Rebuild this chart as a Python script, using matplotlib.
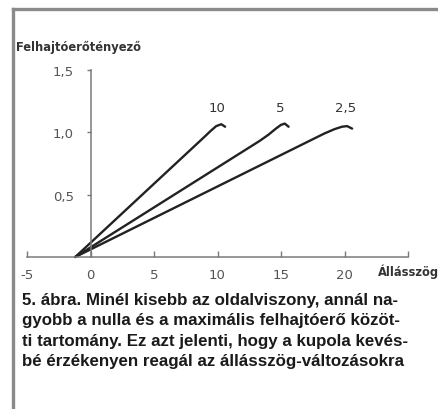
#!/usr/bin/env python3
"""Felhajtóerő-tényező az állásszög függvényében, három oldalviszonyra (5. ábra)."""
import matplotlib
matplotlib.use("Agg")
import matplotlib.pyplot as plt

# ---------------------------------------------------------------- data
aspect_labels = ["10", "5", "2,5"]
x_10 = [-1.2, 8.9, 9.5, 9.9, 10.3, 10.6]
y_10 = [0.0, 0.957, 1.015, 1.05, 1.065, 1.045]
x_5 = [-1.2, 13.3, 14.0, 14.6, 15.0, 15.3, 15.6]
y_5 = [0.0, 0.93, 0.98, 1.03, 1.06, 1.07, 1.045]
x_25 = [-1.2, 18.4, 19.2, 19.8, 20.2, 20.6]
y_25 = [0.0, 0.99, 1.025, 1.045, 1.05, 1.03]
label_x = [10.0, 14.9, 20.1]
label_y = [1.2, 1.2, 1.2]

xticks = [-5, 0, 5, 10, 15, 20, 25]
xtick_labels = ["-5", "0", "5", "10", "15", "20", ""]
yticks = [0.5, 1.0, 1.5]
ytick_labels = ["0,5", "1,0", "1,5"]

caption = ("5. ábra. Minél kisebb az oldalviszony, annál na-\n"
           "gyobb a nulla és a maximális felhajtóerő közöt-\n"
           "ti tartomány. Ez azt jelenti, hogy a kupola kevés-\n"
           "bé érzékenyen reagál az állásszög-változásokra")

AXIS_GRAY = "#7a7a7a"
TICK_GRAY = "#555555"
LINE = "#222222"

fig = plt.figure(figsize=(4.38, 4.10), dpi=100)

# page frame (top and left rule)
fig.add_artist(plt.Line2D([13.3 / 438, 1.0], [1 - 10 / 410, 1 - 10 / 410],
                          color="#8a8a8a", lw=2.4, transform=fig.transFigure))
fig.add_artist(plt.Line2D([13.3 / 438, 13.3 / 438], [0.0, 1 - 10 / 410],
                          color="#8a8a8a", lw=2.4, transform=fig.transFigure))

ax = fig.add_axes([27 / 438, 152 / 410, 381 / 438, 187 / 410])
for xs, ys in [(x_10, y_10), (x_5, y_5), (x_25, y_25)]:
    ax.plot(xs, ys, color=LINE, lw=1.7, solid_capstyle="round",
            solid_joinstyle="round", clip_on=False)
for lx, ly, lab in zip(label_x, label_y, aspect_labels):
    ax.text(lx, ly, lab, ha="center", va="center", fontsize=9.5,
            color="#333333")

ax.set_xlim(-5, 25)
ax.set_ylim(0, 1.5)
ax.spines["top"].set_visible(False)
ax.spines["right"].set_visible(False)
ax.spines["left"].set_position(("data", 0))
ax.spines["left"].set_bounds(0, 1.5)
for s in ("left", "bottom"):
    ax.spines[s].set_color(AXIS_GRAY)
    ax.spines[s].set_linewidth(1.1)

ax.set_xticks(xticks)
ax.set_xticklabels(xtick_labels)
ax.set_yticks(yticks)
ax.set_yticklabels(ytick_labels)
ax.tick_params(axis="x", direction="in", length=4, width=1.0,
               color=AXIS_GRAY, labelsize=9.5, labelcolor=TICK_GRAY, pad=8)
ax.tick_params(axis="y", direction="out", length=3, width=1.0,
               color=AXIS_GRAY, labelsize=9.5, labelcolor=TICK_GRAY, pad=9)

fig.text(16 / 438, 1 - 47 / 410, "Felhajtóerőtényező", fontsize=8.3,
         fontweight="bold", color="#333333", va="center", ha="left")
fig.text(378 / 438, 1 - 272 / 410, "Állásszög", fontsize=8.3,
         fontweight="bold", color="#333333", va="center", ha="left")

fig.text(22 / 438, 1 - 293 / 410, caption, fontsize=12.2, fontweight="bold",
         family="Liberation Sans", color="#1a1a1a", va="top", ha="left",
         linespacing=1.45)

fig.savefig("out.png", dpi=100)
print("wrote out.png")
